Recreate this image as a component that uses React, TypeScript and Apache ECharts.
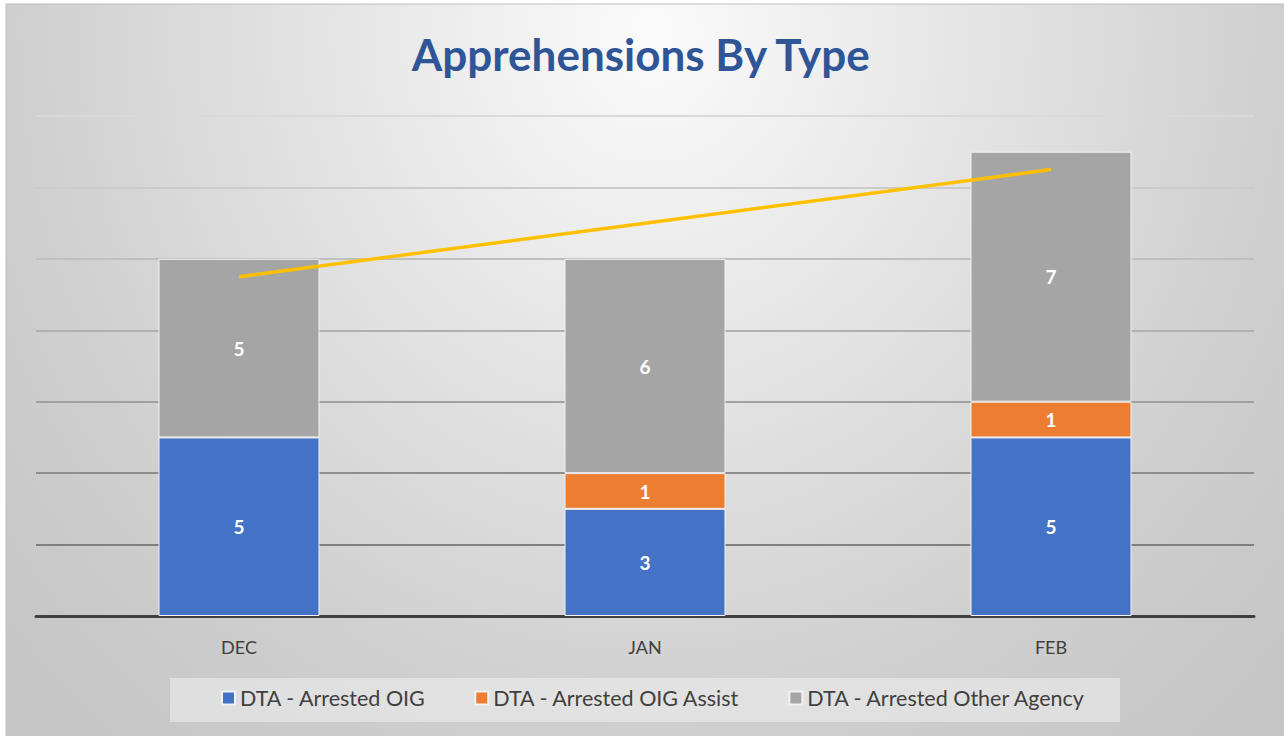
import React, { useEffect, useRef } from "react";
import * as echarts from "echarts";

const categories = ["DEC", "JAN", "FEB"];
const arrestedOIG = [5, 3, 5];
const arrestedOIGAssist = [null, 1, 1];
const arrestedOtherAgency = [5, 6, 7];
const trendTotal = [9.5, 11, 12.5];
const seriesNames = ["DTA - Arrested OIG", "DTA - Arrested OIG Assist", "DTA - Arrested Other Agency"];

export default function App() {
  const ref = useRef<HTMLDivElement>(null);
  useEffect(() => {
    const chart = echarts.init(ref.current!, null, { renderer: "svg" });
    const font = "Lato, 'Open Sans', sans-serif";
    const label = {
      show: true,
      position: "inside",
      color: "#ffffff",
      fontWeight: "bold",
      fontSize: 19,
      fontFamily: font,
    };
    const bar = (name: string, data: any[], color: string) => ({
      name,
      type: "bar",
      stack: "total",
      data,
      barWidth: 161,
      itemStyle: { color, borderColor: "#f2f2f2", borderWidth: 1 },
      label,
      emphasis: { disabled: true },
    });
    chart.setOption({
      animation: false,
      graphic: [
        {
          type: "rect",
          z: -10,
          silent: true,
          shape: { x: 6, y: 4, width: 1290, height: 1400 },
          style: {
            fill: {
              type: "radial",
              x: 0.5,
              y: 0.02,
              r: 0.66,
              colorStops: [
                { offset: 0, color: "#fbfbfb" },
                { offset: 0.4, color: "#e3e3e3" },
                { offset: 0.75, color: "#cfcfcf" },
                { offset: 1, color: "#c6c6c6" },
              ],
            },
            stroke: "#bdbdbd",
            lineWidth: 1,
          },
        },
        {
          type: "rect",
          z: -5,
          silent: true,
          shape: { x: 170, y: 678, width: 950, height: 44 },
          style: { fill: "rgba(240,240,240,0.55)" },
        },
        {
          type: "text",
          left: "center",
          top: 32,
          style: {
            text: "Apprehensions By Type",
            fill: "#2F5597",
            font: "bold 44px Lato, 'Open Sans', sans-serif",
          },
        },
      ],
      grid: { left: 36, right: 30, top: 116, bottom: 120 },
      legend: {
        data: seriesNames,
        bottom: 22,
        left: 216,
        itemWidth: 13,
        itemHeight: 13,
        itemGap: 48,
        icon: "rect",
        textStyle: { color: "#404040", fontSize: 21.5, fontFamily: font },
      },
      xAxis: {
        type: "category",
        data: categories,
        axisLine: { lineStyle: { color: "#404040", width: 3 } },
        axisTick: { show: false },
        axisLabel: { color: "#404040", fontSize: 18, fontFamily: font, margin: 22 },
      },
      yAxis: {
        type: "value",
        min: 0,
        max: 14,
        interval: 2,
        axisLabel: { show: false },
        axisLine: { show: false },
        axisTick: { show: false },
        splitLine: {
          lineStyle: {
            width: 2,
            color: ["#7a7a7a", "#808080", "#8e8e8e", "#a0a0a0", "#b0b0b0", "#bfbfbf", "#cbcbcb", "#d9d9d9"],
          },
        },
      },
      series: [
        bar(seriesNames[0], arrestedOIG, "#4472C4"),
        bar(seriesNames[1], arrestedOIGAssist, "#ED7D31"),
        bar(seriesNames[2], arrestedOtherAgency, "#A5A5A5"),
        {
          name: "Trend",
          type: "line",
          data: trendTotal,
          symbol: "none",
          z: 5,
          lineStyle: { color: "#FFC000", width: 3.5 },
          itemStyle: { color: "#FFC000" },
          emphasis: { disabled: true },
        },
      ],
    });
    return () => chart.dispose();
  }, []);
  return (
    <div
      ref={ref}
      style={{ position: "absolute", left: 0, top: 0, width: 1284, height: 736, background: "#ffffff" }}
    />
  );
}
